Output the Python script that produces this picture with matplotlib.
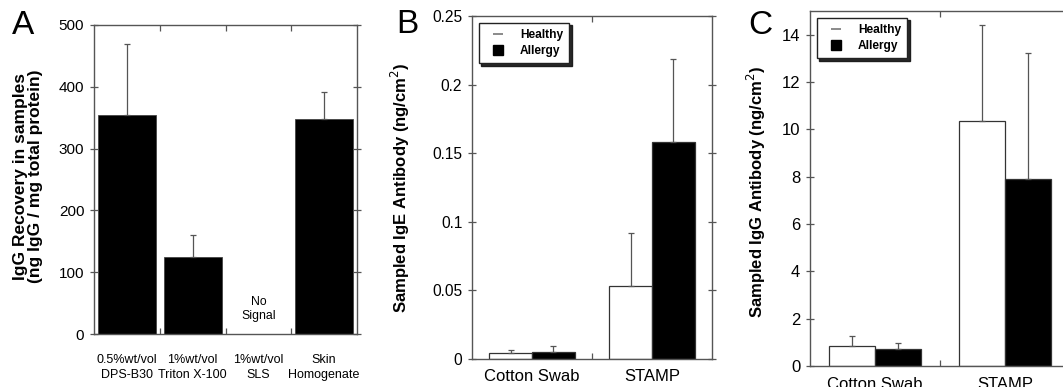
import numpy as np
import matplotlib
matplotlib.use('Agg')
import matplotlib.pyplot as plt
from matplotlib.lines import Line2D

plt.rcParams['font.family'] = ['Liberation Sans', 'DejaVu Sans']

# panel A
a_labels = ['0.5%wt/vol\nDPS-B30', '1%wt/vol\nTriton X-100', '1%wt/vol\nSLS', 'Skin\nHomogenate']
a_vals = [354, 125, 0, 348]
a_err = [116, 36, 0, 44]

# panel B (IgE)
groups = ['Cotton Swab', 'STAMP']
b_healthy = [0.0041, 0.0534]
b_healthy_err = [0.0027, 0.0382]
b_allergy = [0.0053, 0.1584]
b_allergy_err = [0.0040, 0.0605]

# panel C (IgG)
c_healthy = [0.84, 10.35]
c_healthy_err = [0.44, 4.06]
c_allergy = [0.72, 7.89]
c_allergy_err = [0.25, 5.35]

W, H = 1063, 387
fig = plt.figure(figsize=(W / 100, H / 100), dpi=100)

spine_c = '#555555'
err_c = '#555555'


def box(l, r, t, b):
    return [l / W, (H - b) / H, (r - l) / W, (b - t) / H]


def style(ax, ysize):
    for s in ax.spines.values():
        s.set_color(spine_c)
        s.set_linewidth(1.0)
    ax.tick_params(axis='x', direction='in', length=4, width=0.9, color=spine_c,
                   top=True, bottom=True)
    ax.tick_params(axis='y', direction='inout', length=6, width=0.9,
                   color=spine_c, right=True, pad=4, labelsize=ysize)


# ---- A
ax = fig.add_axes(box(94, 357, 25, 334))
x = np.arange(len(a_vals))
ax.bar(x, a_vals, width=0.88, color='black', edgecolor='#444444', linewidth=0.6)
ax.errorbar(x[[0, 1, 3]], np.array(a_vals)[[0, 1, 3]],
            yerr=[np.zeros(3), np.array(a_err)[[0, 1, 3]]],
            fmt='none', ecolor=err_c, elinewidth=0.9, capsize=2.5, capthick=0.9)
ax.text(2, 40, 'No\nSignal', ha='center', va='center', fontsize=8.8,
        linespacing=1.25)
ax.set_xlim(-0.5, 3.5)
ax.set_ylim(0, 500)
ax.set_yticks([0, 100, 200, 300, 400, 500])
ax.set_xticks([0.5, 1.5, 2.5])
ax.set_xticklabels([])
for i, lab in enumerate(a_labels):
    ax.text(i, -32, lab, ha='center', va='top', fontsize=9, linespacing=1.35)
ax.set_ylabel('IgG Recovery in samples\n(ng IgG / mg total protein)',
              fontsize=12.5, fontweight='bold', linespacing=0.95)
ax.yaxis.set_label_coords(-0.195, 0.51)
style(ax, 11)
fig.text(12 / W, 1 - 10 / H, 'A', fontsize=24, va='top', ha='left')


def pair_panel(ax, healthy, h_err, allergy, al_err, ysize):
    g = np.arange(len(groups))
    w = 0.355
    ax.bar(g - w / 2, healthy, width=w, color='white', edgecolor='#333333',
           linewidth=0.9)
    ax.bar(g + w / 2, allergy, width=w, color='black', edgecolor='#333333',
           linewidth=0.9)
    ax.errorbar(g - w / 2, healthy, yerr=[np.zeros(len(g)), h_err], fmt='none',
                ecolor=err_c, elinewidth=0.9, capsize=2, capthick=0.9)
    ax.errorbar(g + w / 2, allergy, yerr=[np.zeros(len(g)), al_err], fmt='none',
                ecolor=err_c, elinewidth=0.9, capsize=2, capthick=0.9)
    ax.set_xlim(-0.5, 1.5)
    ax.set_xticks([0.5])
    ax.set_xticklabels([])
    for i, lab in enumerate(groups):
        ax.text(i, -0.03, lab, transform=ax.get_xaxis_transform(), ha='center',
                va='top', fontsize=12)
    style(ax, ysize)
    handles = [Line2D([0], [0], ls='none', marker='_', markersize=7,
                      markeredgewidth=1.2, color='#777777'),
               Line2D([0], [0], ls='none', marker='s', markersize=7.5,
                      color='black')]
    leg = ax.legend(handles, ['Healthy', 'Allergy'], loc='upper left',
                    fancybox=False, shadow={'color': '#111111', 'alpha': 0.9},
                    framealpha=1, edgecolor='#222222', handlelength=2.2,
                    handletextpad=0.7, borderpad=0.55, labelspacing=0.3,
                    borderaxespad=0.55, prop={'size': 8.6, 'weight': 'bold'})
    leg.get_frame().set_linewidth(1.0)


# ---- B
ax = fig.add_axes(box(472, 712, 16, 359))
ax.set_ylim(0, 0.25)
ax.set_yticks([0, 0.05, 0.1, 0.15, 0.2, 0.25])
ax.set_yticklabels(['0', '0.05', '0.1', '0.15', '0.2', '0.25'])
pair_panel(ax, b_healthy, b_healthy_err, b_allergy, b_allergy_err, 11.2)
ax.set_ylabel('Sampled IgE Antibody (ng/cm$^2$)', fontsize=12,
              fontweight='bold')
ax.yaxis.set_label_coords(-0.25, 0.5)
fig.text(396 / W, 1 - 9 / H, 'B', fontsize=24, va='top', ha='left')

# ---- C
ax = fig.add_axes(box(810, 1070, 11, 366))
ax.set_ylim(0, 15)
ax.set_yticks([0, 2, 4, 6, 8, 10, 12, 14])
pair_panel(ax, c_healthy, c_healthy_err, c_allergy, c_allergy_err, 12)
ax.set_ylabel('Sampled IgG Antibody (ng/cm$^2$)', fontsize=12,
              fontweight='bold')
ax.yaxis.set_label_coords(-0.162, 0.49)
fig.text(748 / W, 1 - 10 / H, 'C', fontsize=24, va='top', ha='left')

fig.savefig('out.png', dpi=100)
